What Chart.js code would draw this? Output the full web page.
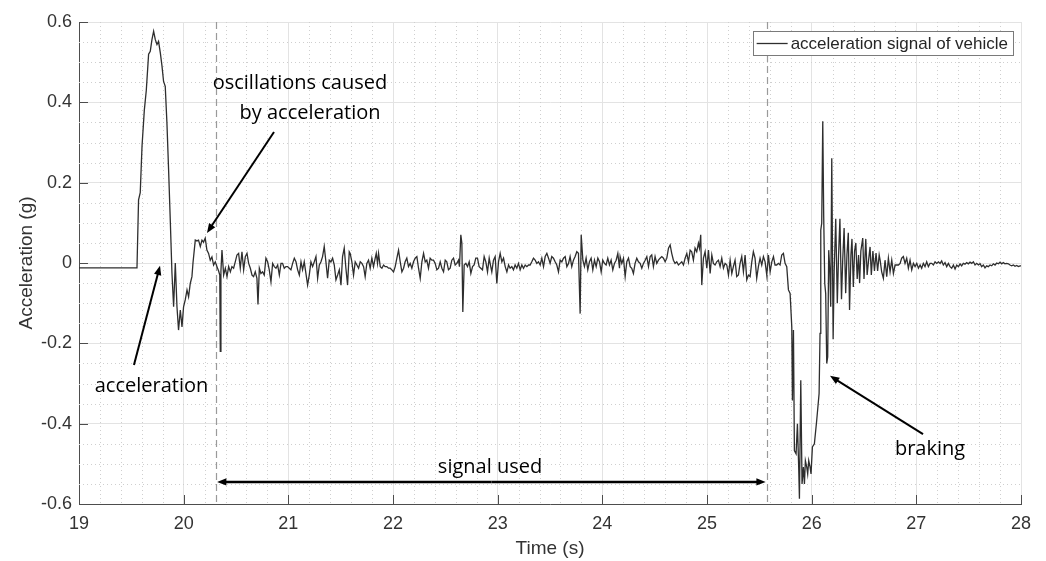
<!DOCTYPE html>
<html>
<head>
<meta charset="utf-8">
<script src="https://cdn.jsdelivr.net/npm/chart.js@4.4.1/dist/chart.umd.min.js"></script>
<style>
  html, body { margin: 0; padding: 0; background: #fff; }
  #wrap { width: 1046px; height: 561px; }
</style>
</head>
<body>
<div id="wrap"><canvas id="accChart" width="1046" height="561"></canvas></div>
<script>
// tick labels
const xTickLabels = ['19', '20', '21', '22', '23', '24', '25', '26', '27', '28'];
const yTickLabels = ['-0.6', '-0.4', '-0.2', '0', '0.2', '0.4', '0.6'];
const seriesLabel = 'acceleration signal of vehicle';

// [time s, acceleration g], split by phase
const launchPhase = [
  [19.000,-0.012],[19.554,-0.012],[19.569,0.157],[19.585,0.175],[19.602,0.290],[19.624,0.380],
  [19.643,0.430],[19.665,0.520],[19.681,0.527],[19.697,0.556],[19.713,0.577],[19.729,0.556],
  [19.745,0.544],[19.760,0.552],[19.777,0.523],[19.793,0.490],[19.808,0.452],[19.824,0.440],
  [19.840,0.349],[19.856,0.232],[19.872,0.107],[19.888,-0.025],[19.904,-0.109],[19.920,0.000],
  [19.936,-0.109],[19.951,-0.167],[19.968,-0.117],[19.984,-0.159],[19.999,-0.109],[20.015,-0.092],
  [20.032,-0.067],[20.047,-0.084],[20.063,-0.051],[20.079,-0.034],[20.089,0.000],[20.111,0.057],
  [20.127,0.055],[20.142,0.057],[20.159,0.041],[20.175,0.057],[20.190,0.052],[20.206,0.062],
  [20.222,0.032],[20.238,0.024],[20.254,0.007],[20.270,0.015],[20.286,-0.005],[20.302,0.003],
  [20.318,-0.009],[20.334,-0.020],[20.345,-0.030],[20.350,-0.220],[20.356,-0.020],[20.366,0.032]
];

const cruiseA = [
  [20.382,-0.030],[20.398,-0.013],[20.414,-0.034],[20.430,-0.009],[20.446,-0.022],[20.461,-0.009],
  [20.477,-0.013],[20.493,0.003],[20.509,0.020],[20.525,0.024],[20.541,-0.013],[20.557,0.028],
  [20.573,-0.017],[20.589,0.016],[20.605,0.024],[20.621,-0.001],[20.637,-0.013],[20.653,-0.030],
  [20.668,-0.034],[20.684,-0.022],[20.700,-0.038],[20.710,-0.103],[20.723,-0.013],[20.738,-0.026],
  [20.754,-0.022],[20.770,-0.030],[20.786,0.012],[20.802,0.003],[20.818,-0.017],[20.834,-0.047],
  [20.850,-0.001],[20.866,-0.009],[20.882,-0.013],[20.898,-0.005],[20.914,-0.030],[20.930,-0.001],
  [20.945,-0.001],[20.961,-0.013],[20.977,-0.009],[20.993,-0.009],[21.009,-0.013],[21.025,-0.017],
  [21.041,-0.001],[21.057,0.012],[21.073,0.003],[21.089,-0.017],[21.105,-0.030],[21.121,0.003],
  [21.136,-0.017],[21.152,0.003],[21.168,-0.026],[21.184,-0.055],[21.200,-0.030],[21.216,0.003],
  [21.232,-0.009],[21.248,0.003],[21.264,0.016],[21.280,-0.038],[21.296,-0.005],[21.312,0.003],
  [21.327,0.016],[21.343,0.041],[21.359,0.003],[21.375,-0.038],[21.391,0.007],[21.407,0.003],
  [21.423,0.012],[21.439,-0.005],[21.455,-0.042],[21.471,-0.030],[21.487,-0.017],[21.503,-0.055],
  [21.518,0.016],[21.534,0.037],[21.550,-0.013],[21.566,-0.055],[21.582,0.028]
];

const cruiseB = [
  [21.591,0.024],[21.607,0.003],[21.623,-0.030],[21.639,0.003],[21.655,-0.005],[21.671,-0.013],
  [21.687,0.003],[21.703,-0.001],[21.719,-0.009],[21.734,-0.034],[21.750,-0.001],[21.766,0.007],
  [21.782,-0.013],[21.798,0.012],[21.814,-0.009],[21.830,0.012],[21.840,0.024],[21.852,-0.001],
  [21.862,0.024],[21.878,-0.009],[21.894,-0.013],[21.910,-0.005],[21.925,-0.009],[21.941,-0.009],
  [21.957,-0.013],[21.973,-0.013],[21.989,-0.017],[22.005,-0.022],[22.021,-0.009],[22.037,0.012],
  [22.053,0.032],[22.069,0.003],[22.085,-0.022],[22.101,-0.013],[22.116,0.003],[22.132,0.012],
  [22.148,-0.009],[22.164,-0.001],[22.180,-0.013],[22.196,0.003],[22.212,0.012],[22.228,0.016],
  [22.244,-0.013],[22.260,-0.038],[22.276,0.003],[22.292,0.024],[22.308,0.003],[22.323,0.007],
  [22.339,-0.013],[22.355,0.012],[22.371,0.007],[22.387,0.007],[22.403,-0.001],[22.419,-0.017],
  [22.435,-0.013],[22.451,0.003],[22.467,-0.013],[22.483,-0.022],[22.499,0.007],[22.514,0.003],
  [22.530,-0.017],[22.546,-0.013],[22.562,0.007],[22.578,0.012],[22.594,-0.005],[22.610,-0.001],
  [22.626,0.007],[22.635,-0.009],[22.648,0.070],[22.658,0.049],[22.667,-0.122],[22.680,-0.005],
  [22.696,-0.001],[22.712,-0.009],[22.728,0.003],[22.744,-0.026],[22.760,-0.009],[22.775,-0.005],
  [22.791,0.012],[22.807,0.012],[22.823,-0.009],[22.839,-0.013],[22.855,-0.017],[22.871,0.016],
  [22.887,0.003],[22.903,-0.022],[22.919,0.012]
];

const cruiseC = [
  [22.928,-0.001],[22.944,-0.022],[22.960,0.007],[22.976,0.016],[22.992,-0.051],[23.008,0.003],
  [23.024,0.024],[23.040,0.003],[23.056,0.012],[23.072,-0.009],[23.088,-0.022],[23.104,-0.005],
  [23.119,-0.013],[23.135,-0.009],[23.151,-0.017],[23.167,-0.005],[23.183,-0.013],[23.199,-0.001],
  [23.215,-0.017],[23.231,-0.005],[23.247,-0.013],[23.263,-0.005],[23.279,-0.009],[23.295,-0.005],
  [23.310,-0.005],[23.326,0.003],[23.342,0.012],[23.358,0.007],[23.374,-0.001],[23.390,0.003],
  [23.406,-0.005],[23.422,0.012],[23.438,-0.009],[23.454,0.016],[23.470,0.024],[23.486,0.012],
  [23.501,-0.001],[23.517,0.016],[23.533,0.012],[23.549,0.003],[23.565,-0.005],[23.581,-0.022],
  [23.597,0.007],[23.613,0.003],[23.629,0.012],[23.645,0.016],[23.661,-0.009],[23.677,-0.001],
  [23.692,0.016],[23.708,-0.009],[23.724,0.007],[23.740,0.016],[23.756,0.028],[23.772,0.024],
  [23.788,-0.126],[23.798,0.070],[23.814,0.007],[23.829,-0.009],[23.845,0.012],[23.861,-0.017],
  [23.877,0.003],[23.893,0.012],[23.909,-0.017],[23.925,0.007],[23.941,-0.009],[23.957,0.012],
  [23.973,0.003],[23.989,-0.022],[24.004,0.007],[24.020,-0.001],[24.036,-0.005],[24.052,0.012],
  [24.068,-0.005],[24.084,0.007],[24.100,-0.017],[24.116,-0.001],[24.132,0.007],[24.148,0.024],
  [24.164,-0.013]
];

const cruiseD = [
  [24.170,0.016],[24.186,-0.001],[24.202,0.012],[24.218,-0.034],[24.234,0.003],[24.250,0.012],
  [24.266,-0.009],[24.281,-0.013],[24.297,-0.026],[24.313,-0.001],[24.329,0.012],[24.345,0.003],
  [24.361,-0.001],[24.377,-0.013],[24.393,-0.001],[24.409,0.007],[24.425,0.016],[24.441,-0.009],
  [24.457,0.016],[24.472,0.020],[24.488,-0.009],[24.504,0.016],[24.520,-0.001],[24.536,0.007],
  [24.552,0.012],[24.568,0.016],[24.584,0.012],[24.600,0.003],[24.616,0.012],[24.632,0.037],
  [24.648,0.045],[24.663,0.024],[24.679,0.007],[24.695,-0.001],[24.711,0.003],[24.727,-0.005],
  [24.743,-0.001],[24.759,0.003],[24.775,-0.005],[24.791,0.012],[24.807,0.024],[24.823,0.003],
  [24.839,0.032],[24.854,0.028],[24.870,0.007],[24.886,0.037],[24.902,0.028],[24.918,0.049],
  [24.928,0.037],[24.940,0.070],[24.950,-0.055],[24.966,0.012],[24.982,0.028],[24.998,-0.013],
  [25.014,0.032],[25.030,-0.026],[25.046,0.020],[25.061,-0.001],[25.077,-0.005],[25.093,0.003],
  [25.109,0.007],[25.125,-0.009],[25.141,0.012],[25.157,-0.013],[25.173,-0.001],[25.189,-0.005],
  [25.205,-0.030],[25.221,0.007],[25.237,-0.026],[25.252,-0.009],[25.268,0.007],[25.284,-0.034],
  [25.300,-0.030],[25.316,-0.001],[25.332,0.016],[25.348,-0.022],[25.364,0.020],[25.380,-0.042],
  [25.396,-0.030],[25.412,-0.034],[25.428,0.003],[25.443,0.028],[25.459,0.012],[25.475,-0.038],
  [25.491,-0.009],[25.507,0.012],[25.523,-0.005],[25.539,0.016],[25.555,0.003],[25.571,-0.030],
  [25.587,0.020],[25.603,-0.022]
];

const brakePhase = [
  [25.619,0.003],[25.635,0.016],[25.650,-0.005],[25.666,-0.005],[25.682,-0.001],[25.698,-0.005],
  [25.714,0.020],[25.730,0.024],[25.746,-0.001],[25.762,-0.009],[25.778,-0.067],[25.794,-0.076],
  [25.810,-0.159],[25.816,-0.342],[25.826,-0.167],[25.835,-0.467],[25.851,-0.475],[25.864,-0.400],
  [25.876,-0.508],[25.883,-0.587],[25.896,-0.292],[25.908,-0.550],[25.921,-0.508],[25.931,-0.550],
  [25.940,-0.492],[25.953,-0.508],[25.962,-0.525],[25.972,-0.492],[25.985,-0.508],[25.994,-0.525],
  [26.007,-0.458],[26.026,-0.450],[26.048,-0.392],[26.071,-0.325],[26.080,-0.175],[26.087,0.082],
  [26.096,0.099],[26.106,0.353],[26.115,0.116],[26.125,-0.051],[26.134,-0.076],[26.144,-0.250],
  [26.153,-0.234],[26.163,0.032],[26.173,-0.017],[26.182,-0.109],[26.192,0.261],[26.205,-0.190],
  [26.215,-0.020],[26.230,0.110],[26.245,-0.100],[26.257,0.020],[26.270,0.110],[26.285,-0.090],
  [26.297,0.010],[26.310,0.087],[26.325,-0.075],[26.337,0.020],[26.350,0.075],[26.362,-0.117],
  [26.375,0.020],[26.385,0.060],[26.398,-0.060],[26.410,0.030],[26.422,0.050],[26.435,-0.040],
  [26.448,0.020],[26.458,-0.050],[26.470,0.030],[26.488,0.062],[26.500,-0.040],[26.517,0.060],
  [26.530,-0.030],[26.545,0.010],[26.558,0.040],[26.570,-0.030],[26.585,0.030],[26.600,-0.020],
  [26.615,0.025],[26.630,-0.020],[26.645,0.020]
];

const settlePhase = [
  [26.654,0.007],[26.669,-0.022],[26.685,-0.038],[26.701,0.007],[26.717,-0.034],[26.733,0.012],
  [26.749,-0.022],[26.765,0.007],[26.781,-0.026],[26.797,-0.005],[26.813,-0.005],[26.829,-0.005],
  [26.845,-0.001],[26.860,0.012],[26.876,0.016],[26.892,-0.001],[26.908,0.012],[26.924,-0.013],
  [26.940,0.007],[26.956,-0.017],[26.972,-0.001],[26.988,-0.009],[27.004,-0.001],[27.020,-0.013],
  [27.036,-0.005],[27.051,-0.013],[27.067,-0.001],[27.083,-0.009],[27.099,0.003],[27.115,-0.009],
  [27.131,-0.001],[27.147,-0.001],[27.163,-0.005],[27.179,0.003],[27.195,-0.001],[27.211,0.003],
  [27.227,-0.001],[27.242,0.005],[27.258,-0.005],[27.274,0.001],[27.290,-0.009],[27.306,-0.001],
  [27.322,-0.009],[27.338,-0.013],[27.354,-0.005],[27.370,-0.015],[27.386,-0.005],[27.402,-0.009],
  [27.418,-0.002],[27.433,-0.007],[27.449,-0.001],[27.465,-0.003],[27.481,0.001],[27.497,-0.002],
  [27.513,0.002],[27.529,-0.001],[27.545,0.003],[27.561,-0.005],[27.577,-0.001],[27.593,-0.005],
  [27.609,-0.002],[27.624,-0.009],[27.640,-0.005],[27.656,-0.012],[27.672,-0.007],[27.688,-0.009],
  [27.704,-0.005],[27.720,-0.007],[27.736,-0.002],[27.752,-0.005],[27.768,0.000],[27.784,-0.002],
  [27.800,0.002],[27.816,-0.002],[27.831,0.001],[27.847,-0.002],[27.863,-0.001],[27.879,-0.002],
  [27.895,-0.005],[27.911,-0.007],[27.927,-0.005],[27.943,-0.008],[27.959,-0.006],[27.975,-0.009],
  [27.991,-0.007],[28.000,-0.007]
];

// window used for analysis (dashed markers)
const usedStart = 20.31;
const usedEnd = 25.57;

const signal = [].concat(launchPhase, cruiseA, cruiseB, cruiseC, cruiseD, brakePhase, settlePhase);

const axisFont = 'Liberation Sans, Arial, sans-serif';
const noteFont = '20px "Open Sans", sans-serif';

function arrow(ctx, x0, y0, x1, y1, head, width) {
    const ang = Math.atan2(y1 - y0, x1 - x0);
    ctx.lineWidth = width;
    ctx.beginPath();
    ctx.moveTo(x0, y0);
    ctx.lineTo(x1 - Math.cos(ang) * head * 0.7, y1 - Math.sin(ang) * head * 0.7);
    ctx.stroke();
    ctx.beginPath();
    ctx.moveTo(x1, y1);
    ctx.lineTo(x1 - head * Math.cos(ang - 0.38), y1 - head * Math.sin(ang - 0.38));
    ctx.lineTo(x1 - head * Math.cos(ang + 0.38), y1 - head * Math.sin(ang + 0.38));
    ctx.closePath();
    ctx.fill();
}

// minor grid, inward ticks, markers, notes and legend box
const matlabDecor = {
    id: 'matlabDecor',
    beforeDatasetsDraw(chart) {
        const { ctx, chartArea: a, scales: { x, y } } = chart;
        ctx.save();
        ctx.strokeStyle = '#cfcfcf';
        ctx.lineWidth = 1;
        ctx.setLineDash([1, 3]);
        for (let t = 19.2; t < 27.99; t += 0.2) {
            if (Math.abs(t - Math.round(t)) < 1e-6) continue;
            const px = Math.round(x.getPixelForValue(t)) + 0.5;
            ctx.beginPath(); ctx.moveTo(px, a.top); ctx.lineTo(px, a.bottom); ctx.stroke();
        }
        for (let g = -0.55; g < 0.6; g += 0.05) {
            if (Math.abs(g * 5 - Math.round(g * 5)) < 1e-6) continue;
            const py = Math.round(y.getPixelForValue(g)) + 0.5;
            ctx.beginPath(); ctx.moveTo(a.left, py); ctx.lineTo(a.right, py); ctx.stroke();
        }
        // dashed markers of the used window
        ctx.strokeStyle = '#9a9a9a';
        ctx.lineWidth = 1.2;
        ctx.setLineDash([7, 4]);
        [usedStart, usedEnd].forEach(t => {
            const px = Math.round(x.getPixelForValue(t)) + 0.5;
            ctx.beginPath(); ctx.moveTo(px, a.top); ctx.lineTo(px, a.bottom); ctx.stroke();
        });
        ctx.restore();
    },
    afterDatasetsDraw(chart) {
        const { ctx, chartArea: a, scales: { x, y } } = chart;
        ctx.save();
        // inward ticks
        ctx.strokeStyle = '#4d4d4d';
        ctx.lineWidth = 1;
        x.ticks.forEach(tk => {
            const px = Math.round(x.getPixelForValue(tk.value)) + 0.5;
            ctx.beginPath(); ctx.moveTo(px, a.bottom); ctx.lineTo(px, a.bottom - 9); ctx.stroke();
        });
        y.ticks.forEach(tk => {
            const py = Math.round(y.getPixelForValue(tk.value)) + 0.5;
            ctx.beginPath(); ctx.moveTo(a.left, py); ctx.lineTo(a.left + 9, py); ctx.stroke();
        });

        // notes
        ctx.fillStyle = '#000';
        ctx.strokeStyle = '#000';
        ctx.font = noteFont;
        ctx.textAlign = 'center';
        ctx.textBaseline = 'alphabetic';
        ctx.fillText('oscillations caused', x.getPixelForValue(21.111), y.getPixelForValue(0.432));
        ctx.fillText('by acceleration', x.getPixelForValue(21.207), y.getPixelForValue(0.358));
        ctx.fillText('acceleration', x.getPixelForValue(19.693), y.getPixelForValue(-0.321));
        ctx.fillText('signal used', x.getPixelForValue(22.927), y.getPixelForValue(-0.523));
        ctx.fillText('braking', x.getPixelForValue(27.131), y.getPixelForValue(-0.478));

        arrow(ctx, x.getPixelForValue(20.863), y.getPixelForValue(0.326),
              x.getPixelForValue(20.223), y.getPixelForValue(0.075), 10, 2);
        arrow(ctx, x.getPixelForValue(19.525), y.getPixelForValue(-0.254),
              x.getPixelForValue(19.774), y.getPixelForValue(-0.007), 10, 2);
        arrow(ctx, x.getPixelForValue(27.064), y.getPixelForValue(-0.426),
              x.getPixelForValue(26.175), y.getPixelForValue(-0.281), 10, 2);

        const ay = y.getPixelForValue(-0.545);
        const ax0 = x.getPixelForValue(usedStart) + 1;
        const ax1 = x.getPixelForValue(usedEnd) - 1;
        arrow(ctx, (ax0 + ax1) / 2, ay, ax1, ay, 10, 2.5);
        arrow(ctx, (ax0 + ax1) / 2, ay, ax0, ay, 10, 2.5);

        // legend box
        ctx.font = '17px ' + axisFont;
        const tw = ctx.measureText(seriesLabel).width;
        const bw = 4 + 31 + 3 + tw + 5;
        const bx = a.right - 8 - bw;
        const by = a.top + 9;
        ctx.fillStyle = '#fff';
        ctx.fillRect(bx, by, bw, 24);
        ctx.strokeStyle = '#7a7a7a';
        ctx.lineWidth = 1;
        ctx.strokeRect(Math.round(bx) + 0.5, by + 0.5, Math.round(bw), 24);
        ctx.strokeStyle = '#2e2e2e';
        ctx.lineWidth = 1.3;
        ctx.beginPath(); ctx.moveTo(bx + 4, by + 12.5); ctx.lineTo(bx + 35, by + 12.5); ctx.stroke();
        ctx.fillStyle = '#262626';
        ctx.textAlign = 'left';
        ctx.textBaseline = 'middle';
        ctx.fillText(seriesLabel, bx + 38, by + 13);
        ctx.restore();
    }
};

const ctx = document.getElementById('accChart').getContext('2d');
const accChart = new Chart(ctx, {
    type: 'line',
    data: {
        datasets: [{
            label: seriesLabel,
            data: signal.map(p => ({ x: p[0], y: p[1] })),
            borderColor: '#2e2e2e',
            borderWidth: 1.3,
            pointRadius: 0,
            tension: 0,
            fill: false
        }]
    },
    options: {
        responsive: false,
        animation: false,
        layout: { padding: { top: 22, right: 25, left: 0, bottom: 0 } },
        plugins: {
            legend: { display: false },
            tooltip: { enabled: false }
        },
        scales: {
            x: {
                type: 'linear',
                min: 19,
                max: 28,
                afterFit: s => { s.height = 57; },
                ticks: {
                    stepSize: 1,
                    padding: 9,
                    color: '#333333',
                    font: { family: axisFont, size: 18 },
                    callback: (v, i) => xTickLabels[i]
                },
                grid: { color: '#e3e3e3', drawTicks: false },
                border: { color: '#4d4d4d', width: 1 },
                title: {
                    display: true,
                    text: 'Time (s)',
                    color: '#333333',
                    font: { family: axisFont, size: 19 },
                    padding: { top: 0, bottom: 1 }
                }
            },
            y: {
                min: -0.6,
                max: 0.6,
                afterFit: s => { s.width = 79; },
                ticks: {
                    stepSize: 0.2,
                    padding: 7,
                    color: '#333333',
                    font: { family: axisFont, size: 18 },
                    callback: (v, i) => yTickLabels[i]
                },
                grid: { color: '#e3e3e3', drawTicks: false },
                border: { color: '#4d4d4d', width: 1 },
                title: {
                    display: true,
                    text: 'Acceleration (g)',
                    color: '#333333',
                    font: { family: axisFont, size: 19 },
                    padding: { top: 15, bottom: 0 }
                }
            }
        }
    },
    plugins: [matlabDecor]
});
</script>
</body>
</html>
